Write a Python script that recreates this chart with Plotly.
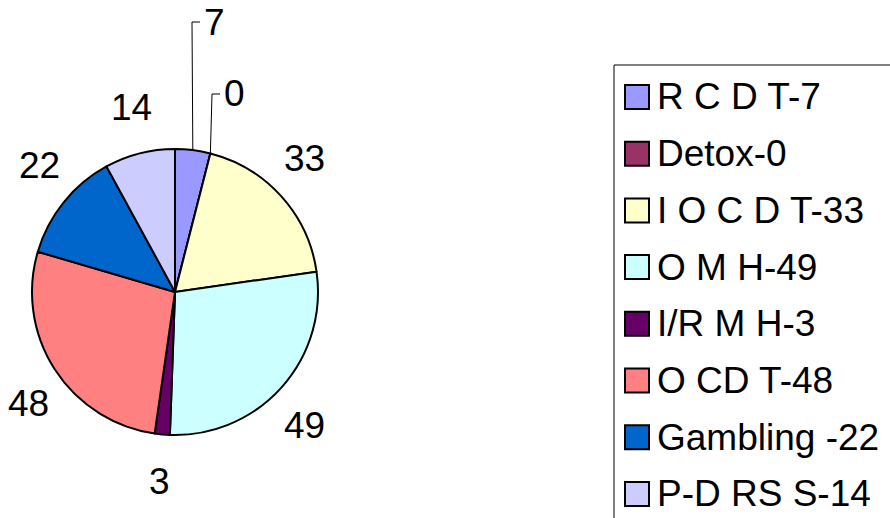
import math
import plotly.graph_objects as go

# ---- data ----
categories = ["R C D T-7", "Detox-0", "I O C D T-33", "O M H-49", "I/R M H-3",
              "O CD T-48", "Gambling -22", "P-D RS S-14"]
values = [7, 0, 33, 49, 3, 48, 22, 14]
colors = ["#9999FF", "#993366", "#FFFFCC", "#CCFFFF", "#660066",
          "#FF8080", "#0066CC", "#CCCCFF"]

# ---- geometry / style ----
W, H = 890, 518
CX, CY, R = 175, 292, 143          # pie centre and radius in window pixels
FONT = "Liberation Sans, Arial, sans-serif"
FS = 37
LAB_RX = 174                       # horizontal label distance (px)
LAB_RY, LAB_RY_PAD = 170, 20       # vertical label distance (px)
# labels for tiny slices are pulled out with leader lines (left x, centre y in px)
LEADER_LABELS = {0: (202, 22), 1: (222, 94)}


def px(x):
    return x / W


def py(y):
    return 1 - y / H


fig = go.Figure()
fig.add_trace(go.Pie(
    labels=categories, values=values, sort=False, direction="clockwise",
    rotation=0, marker=dict(colors=colors, line=dict(color="black", width=2)),
    textinfo="none", hoverinfo="label+value", showlegend=False,
    domain=dict(x=[px(CX - R), px(CX + R)], y=[py(CY + R), py(CY - R)]),
))

annotations = []
shapes = []
total = sum(values)
cum = 0
for i, v in enumerate(values):
    mid = (cum + v / 2) / total * 2 * math.pi
    cum += v
    s, c = math.sin(mid), math.cos(mid)
    if i in LEADER_LABELS:
        lx, ly = LEADER_LABELS[i]
        ex, ey = CX + R * s, CY - R * c
        shapes.append(dict(type="path", xref="paper", yref="paper",
                           path=f"M {px(ex)},{py(ey)} L {px(lx - 10)},{py(ly)} L {px(lx - 2)},{py(ly)}",
                           line=dict(color="black", width=1)))
        annotations.append(dict(x=px(lx), y=py(ly), xref="paper", yref="paper",
                                text=str(v), showarrow=False, xanchor="left",
                                yanchor="middle", font=dict(family=FONT, size=FS, color="black")))
    else:
        ly = CY - (LAB_RY * c + LAB_RY_PAD * (1 if c >= 0 else -1))
        annotations.append(dict(x=px(CX + LAB_RX * s), y=py(ly),
                                xref="paper", yref="paper", text=str(v), showarrow=False,
                                xanchor="center", yanchor="middle",
                                font=dict(family=FONT, size=FS, color="black")))

# ---- legend (drawn manually to match spacing) ----
LEG_X0, LEG_Y0 = 614, 65
ROW0, STEP = 97, 56.7
shapes.append(dict(type="rect", xref="paper", yref="paper",
                   x0=px(LEG_X0), x1=px(900), y0=py(LEG_Y0), y1=py(530),
                   line=dict(color="black", width=1), fillcolor="white", layer="below"))
for i, (cat, col) in enumerate(zip(categories, colors)):
    yc = ROW0 + i * STEP
    shapes.append(dict(type="rect", xref="paper", yref="paper",
                       x0=px(625), x1=px(649), y0=py(yc + 12), y1=py(yc - 12),
                       line=dict(color="black", width=2), fillcolor=col))
    annotations.append(dict(x=px(655), y=py(yc), xref="paper", yref="paper",
                            text=cat, showarrow=False, xanchor="left", yanchor="middle",
                            font=dict(family=FONT, size=FS, color="black")))

fig.update_layout(
    width=W, height=H, margin=dict(l=0, r=0, t=0, b=0),
    paper_bgcolor="white", plot_bgcolor="white",
    annotations=annotations, shapes=shapes, showlegend=False,
)
# remove the default page margin so the figure fills the window exactly
fig.write_html("out.html", config={"displayModeBar": False},
               post_script="document.body.style.margin='0';document.body.style.overflow='hidden';")
